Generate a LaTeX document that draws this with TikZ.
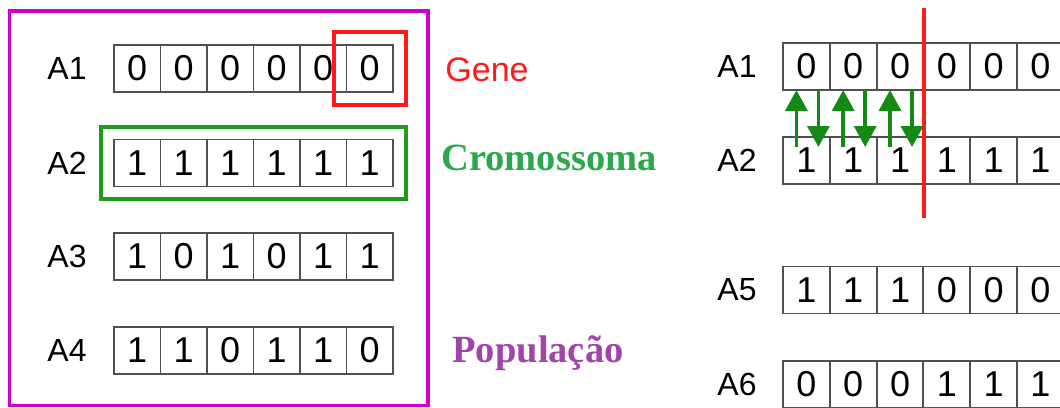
\documentclass[tikz,border=0pt]{standalone}
\usepackage{fontspec}
\setmainfont{Liberation Sans}
\newfontfamily\serifbf{Liberation Serif}
\usetikzlibrary{arrows.meta}
\definecolor{cellgray}{HTML}{505050}
\definecolor{magbox}{HTML}{CC00CC}
\definecolor{genered}{HTML}{FF1A1A}
\definecolor{chromgreen}{HTML}{1F9A1F}
\definecolor{chromtext}{HTML}{2AA84A}
\definecolor{poptext}{HTML}{A044AC}
\definecolor{arrgreen}{HTML}{148A14}
\tikzset{
  cell/.style={draw=cellgray, line width=1.6pt, minimum width=46.5pt, minimum height=47pt,
    inner sep=0pt, outer sep=0pt, font=\fontsize{36}{40}\selectfont},
  rowlabel/.style={font=\fontsize{32}{36}\selectfont, inner sep=0pt},
  xarrow/.style={draw=arrgreen, line width=3.5pt, -{Triangle[width=22pt,length=21pt]}},
}
\begin{document}
\begin{tikzpicture}[x=1pt,y=-1pt]
\useasboundingbox (0,0) rectangle (1060,407);
% left population
\draw[magbox, line width=3.5pt] (9.5,11) rectangle (428,405.5);
\foreach \lab/\yc/\bits in {1/68.5/{0,0,0,0,0,0},2/163/{1,1,1,1,1,1},3/256.5/{1,0,1,0,1,1},4/350.5/{1,1,0,1,1,0}}{
  \node[rowlabel] (LA\lab) at (67,\yc) {A\lab};
  \foreach \b [count=\i] in \bits {
    \node[cell] (L\lab-\i) at (114+46.5*\i-23.25,\yc) {\b};
  }
}
\node[draw=genered, line width=3.5pt, inner sep=0pt, minimum width=72pt, minimum height=73pt] (gene) at (370,68.5) {};
\draw[chromgreen, line width=3.5pt] (101,127) rectangle (406,199);
\node[text=genered, font=\fontsize{34}{38}\selectfont, inner sep=0pt] (genetxt) at (487,70) {Gene};
\node[text=chromtext, font=\serifbf\bfseries\fontsize{38.5}{44}\selectfont, inner sep=0pt] (chromtxt) at (549,158) {Cromossoma};
\node[text=poptext, font=\serifbf\bfseries\fontsize{38.5}{44}\selectfont, inner sep=0pt] (poptxt) at (538,353) {População};
% right side
\foreach \lab/\yc/\bits in {1/66.5/{0,0,0,0,0,0},2/160.5/{1,1,1,1,1,1},5/290/{1,1,1,0,0,0},6/384.5/{0,0,0,1,1,1}}{
  \node[rowlabel] (RA\lab) at (737,\yc) {A\lab};
  \foreach \b [count=\i] in \bits {
    \node[cell] (R\lab-\i) at (783+46.8*\i-23.4,\yc) {\b};
  }
}
\coordinate (cutT) at (924,8);
\coordinate (cutB) at (924,218);
\draw[genered, line width=3.5pt] (cutT) -- (cutB);
\foreach \i in {1,2,3}{
  \draw[xarrow] ([xshift=-10pt,yshift=-10pt]R2-\i.north) -- ([xshift=-10pt]R1-\i.south);
  \draw[xarrow] ([xshift=12pt]R1-\i.south) -- ([xshift=12pt,yshift=-10pt]R2-\i.north);
}
\end{tikzpicture}
\end{document}
